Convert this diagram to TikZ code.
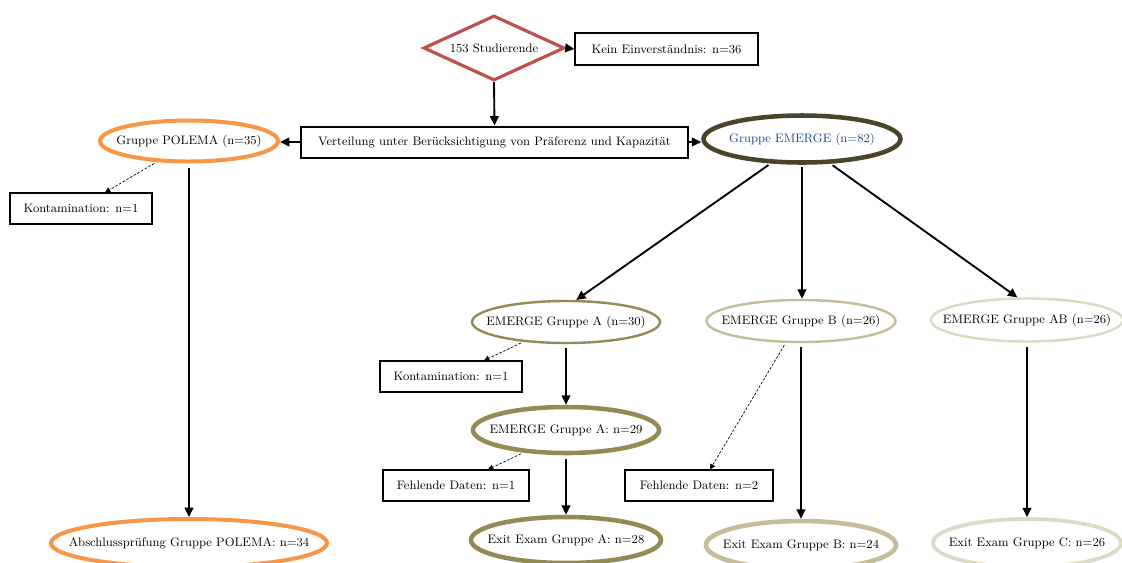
\documentclass[tikz,border=0pt]{standalone}
\usetikzlibrary{shapes.geometric,arrows.meta}
\definecolor{cred}{HTML}{C0504D}
\definecolor{corange}{HTML}{F79646}
\definecolor{cdark}{HTML}{4A452A}
\definecolor{colive}{HTML}{948A54}
\definecolor{clight}{HTML}{C4BD97}
\definecolor{cpale}{HTML}{DDD9C3}
\definecolor{cblue}{HTML}{1F497D}
\def\u{0.75pt}
\newcommand\zb[1]{\makebox[0pt]{#1}}
\tikzset{
  txt/.style={font=\fontsize{9.2}{11}\selectfont, text=black},
  rbox/.style={txt, draw=black, line width=0.8pt, inner sep=0pt, fill=white},
  ell/.style={txt, ellipse, inner sep=0pt, fill=white},
  arr/.style={-{Triangle[length=7pt,width=6.5pt]}, line width=1.4pt, black},
  darr/.style={-{Triangle[length=4pt,width=4pt]}, line width=0.5pt, black, dash pattern=on 2pt off 1.2pt},
}
\begin{document}
\begin{tikzpicture}[x=0.75pt,y=-0.75pt]
\useasboundingbox (0,0) rectangle (1122,562);
\fill[white] (0,0) rectangle (1122,562);
% nodes
\node[txt, diamond, draw=cred, line width=2.4pt, minimum width=141*\u, minimum height=65*\u, inner sep=0pt, fill=white] (dia) at (494,48) {\zb{153 Studierende}};
\node[rbox, minimum width=183*\u, minimum height=32*\u] (kein) at (666.5,49) {Kein Einverständnis: n=36};
\node[rbox, line width=1.5pt, minimum width=387*\u, minimum height=31*\u] (vert) at (494.5,142) {Verteilung unter Berücksichtigung von Präferenz und Kapazität};
\node[ell, draw=corange, line width=3pt, minimum width=178*\u, minimum height=41*\u] (polema) at (189,141) {\zb{Gruppe POLEMA (n=35)}};
\node[ell, draw=cdark, line width=3.4pt, minimum width=197*\u, minimum height=47*\u, text=cblue] (emerge) at (802,139) {\zb{Gruppe EMERGE (n=82)}};
\node[rbox, minimum width=142*\u, minimum height=31*\u] (k1) at (81,208.5) {Kontamination: n=1};
\node[ell, draw=corange, line width=3pt, minimum width=276*\u, minimum height=48*\u] (absch) at (189,543) {\zb{Abschlussprüfung Gruppe POLEMA: n=34}};
\node[ell, draw=colive, line width=1.8pt, minimum width=188*\u, minimum height=42*\u] (ga) at (566,322) {\zb{EMERGE Gruppe A (n=30)}};
\node[ell, draw=clight, line width=1.8pt, minimum width=189*\u, minimum height=42*\u] (gb) at (801,321) {\zb{EMERGE Gruppe B (n=26)}};
\node[ell, draw=cpale, line width=1.8pt, minimum width=192*\u, minimum height=43*\u] (ab) at (1027,320) {\zb{EMERGE Gruppe AB (n=26)}};
\node[rbox, minimum width=142*\u, minimum height=31*\u] (k2) at (451,376.5) {Kontamination: n=1};
\node[ell, draw=colive, line width=3.4pt, minimum width=186*\u, minimum height=46*\u] (ga29) at (566,430) {\zb{EMERGE Gruppe A: n=29}};
\node[rbox, minimum width=146*\u, minimum height=31*\u] (f1) at (456,485.5) {Fehlende Daten: n=1};
\node[rbox, minimum width=148*\u, minimum height=31*\u] (f2) at (699,485.5) {Fehlende Daten: n=2};
\node[ell, draw=colive, line width=3.4pt, minimum width=190*\u, minimum height=46*\u] (ea) at (566,540) {\zb{Exit Exam Gruppe A: n=28}};
\node[ell, draw=clight, line width=3.4pt, minimum width=190*\u, minimum height=48*\u] (eb) at (801,545) {\zb{Exit Exam Gruppe B: n=24}};
\node[ell, draw=cpale, line width=2.8pt, minimum width=188*\u, minimum height=48*\u] (ec) at (1027,543) {\zb{Exit Exam Gruppe C: n=26}};
% connectors
\draw[arr] (dia.east) -- (kein.west);
\draw[arr] (dia.south) -- (vert.north);
\draw[arr] (vert.west) -- (vert.west -| polema.east);
\draw[arr] (vert.east) -- (vert.east -| emerge.west);
\draw[darr, shorten <=2pt] (polema.213) -- ([xshift=24*\u]k1.north);
\draw[arr, shorten <=3pt] (polema.south) -- (absch.north);
\draw[arr, shorten <=2pt] (emerge.-142) -- (ga.65);
\draw[arr, shorten <=2pt] (emerge.south) -- (emerge.south |- gb.north);
\draw[arr, shorten <=2pt] (emerge.-41) -- (ab.113);
\draw[darr, shorten <=2pt] (ga.205) -- ([xshift=33*\u]k2.north);
\draw[arr, shorten <=3pt] (ga.south) -- (ga29.north);
\draw[darr, shorten <=2pt] (ga29.208) -- ([xshift=32*\u]f1.north);
\draw[arr, shorten <=3pt] (ga29.south) -- (ea.north);
\draw[darr, shorten <=2pt] (gb.235) -- ([xshift=11*\u]f2.north);
\draw[arr, shorten <=3pt] (gb.south) -- (eb.north);
\draw[arr, shorten <=3pt] (ab.south) -- (ec.north);
\end{tikzpicture}
\end{document}
